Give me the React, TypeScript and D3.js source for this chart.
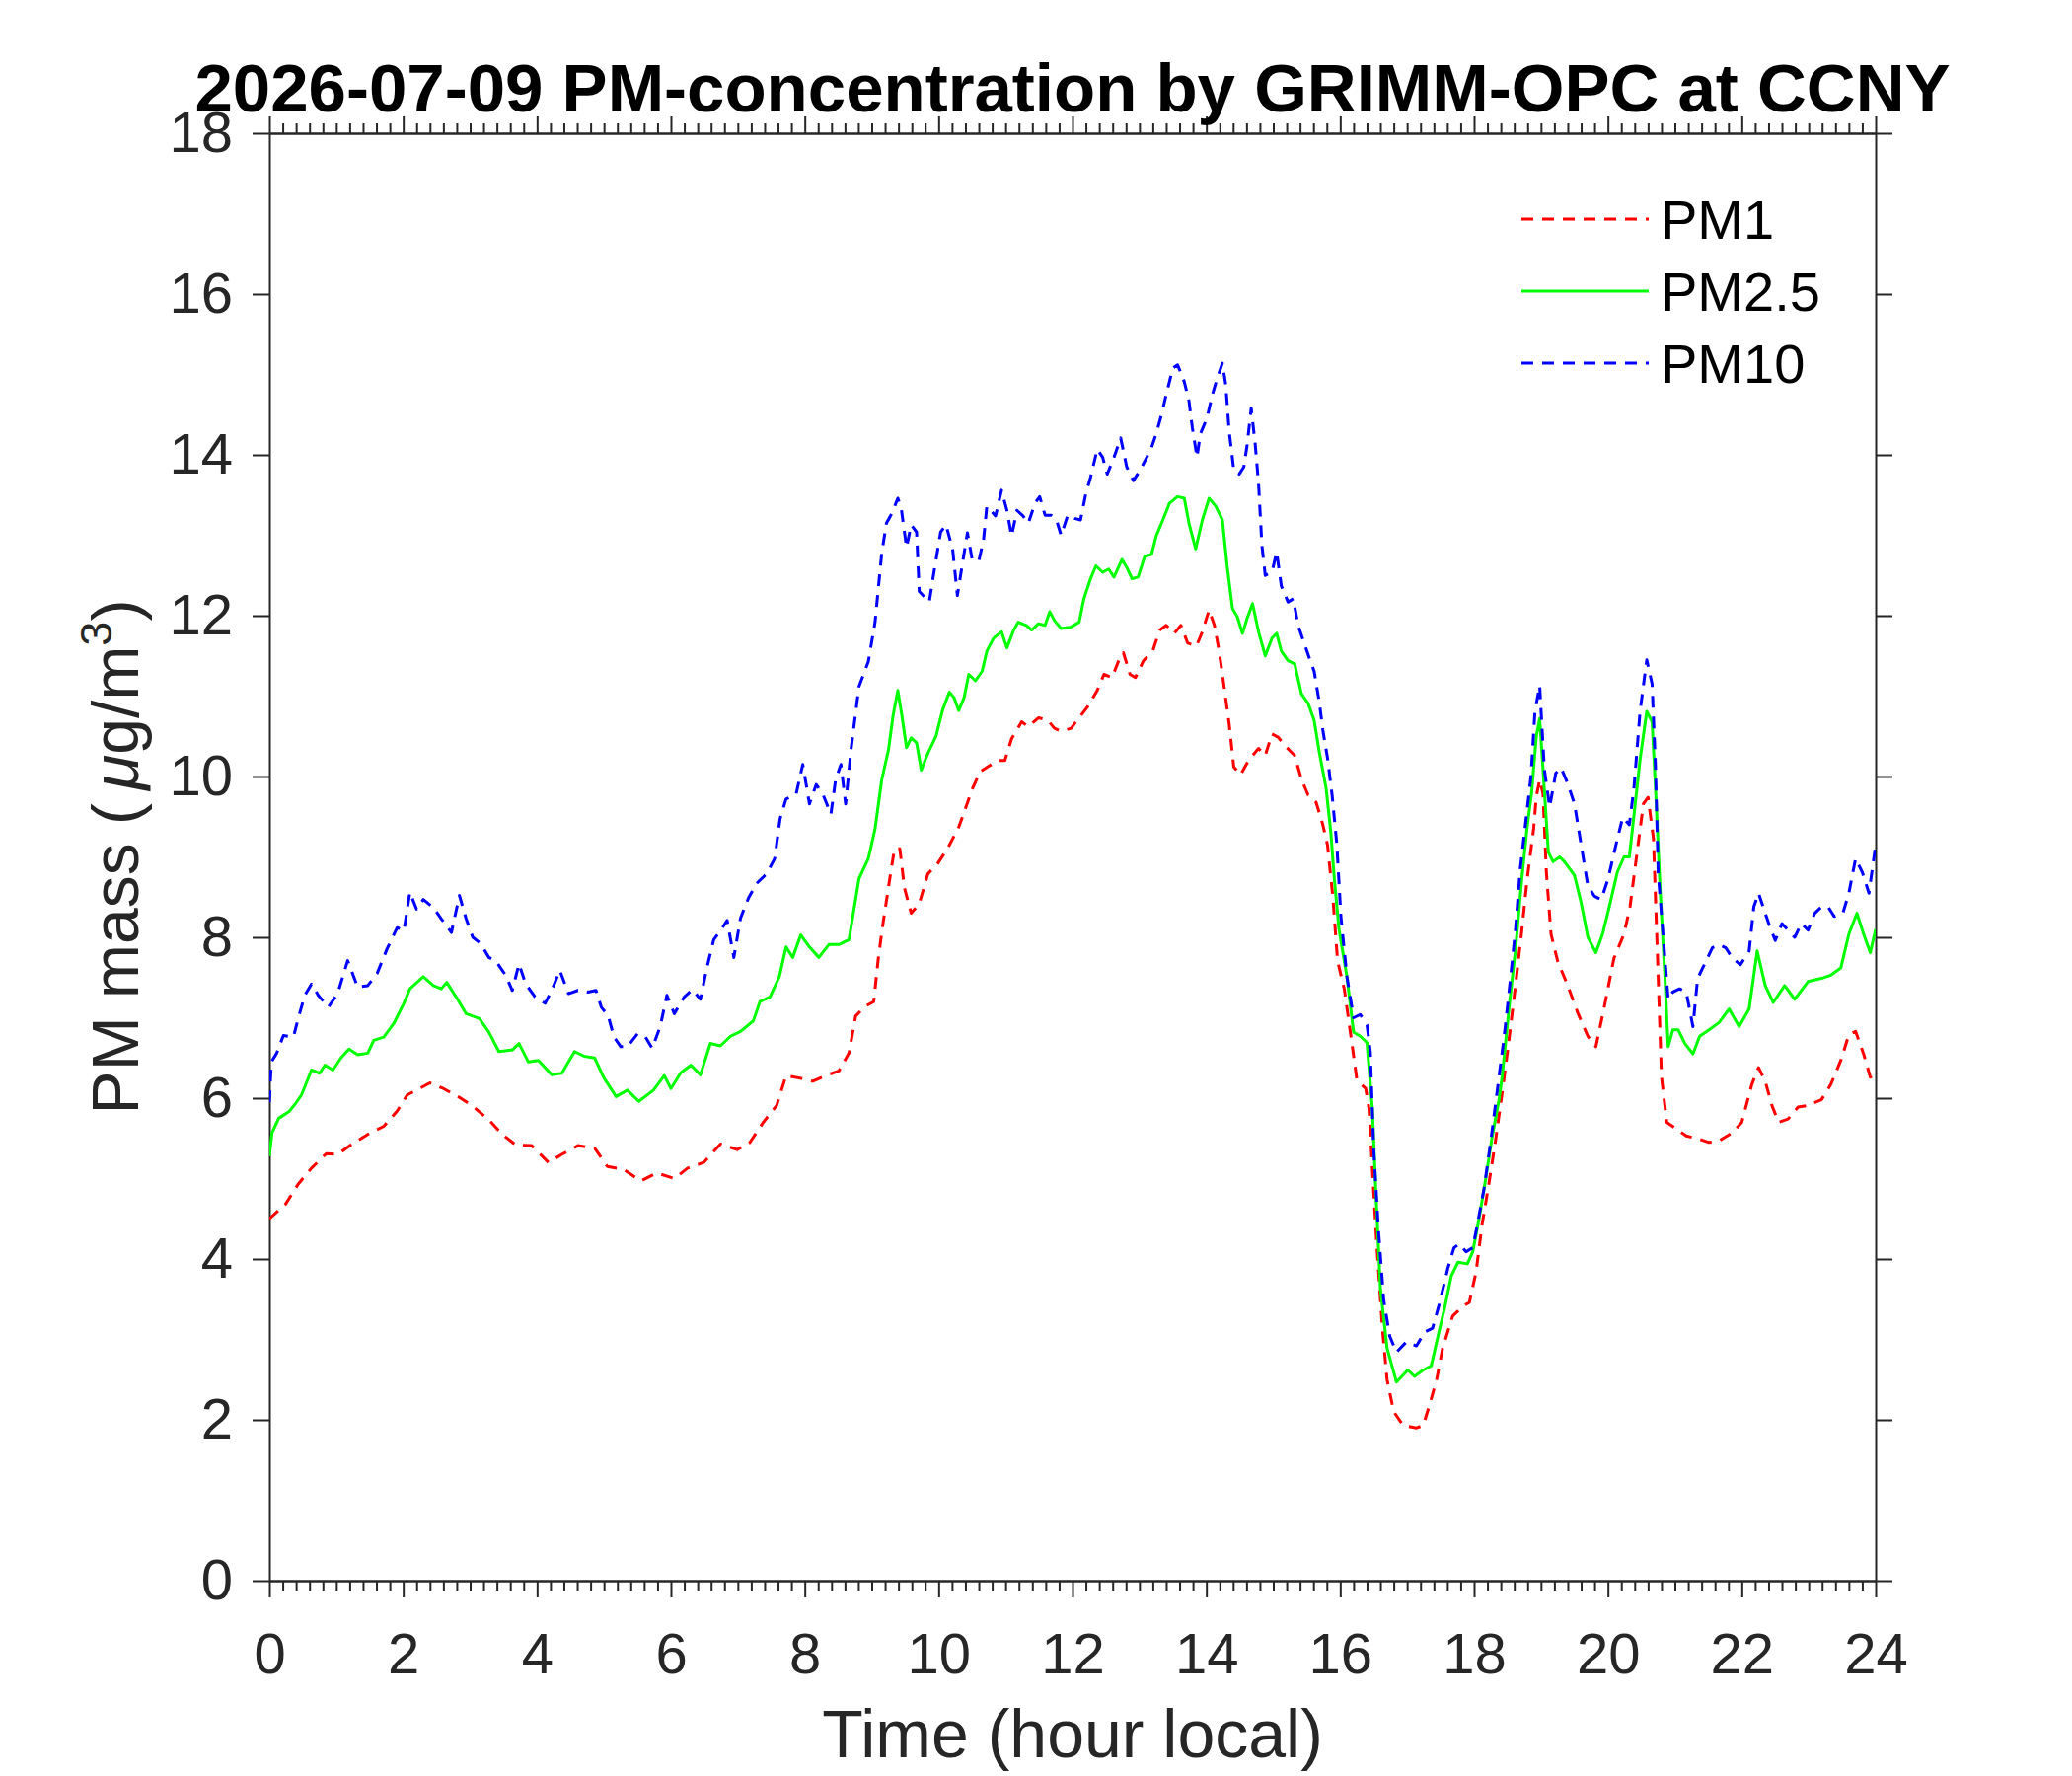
import React, { useEffect, useRef } from "react";
import * as d3 from "d3";

const W = 2100;
const H = 1800;

const titleText = "2026-07-09 PM-concentration by GRIMM-OPC at CCNY";
const xLabelText = "Time (hour local)";

const xTicks = [0, 2, 4, 6, 8, 10, 12, 14, 16, 18, 20, 22, 24];
const yTicks = [0, 2, 4, 6, 8, 10, 12, 14, 16, 18];

// PM1 (red dashed)
const pm1Time = [
  0, 0.24, 0.43, 0.63, 0.85, 1.02, 1.22, 1.47, 1.71, 1.91, 2.06, 2.2, 2.4, 2.6, 2.84, 3.04, 3.28, 3.48,
  3.68, 3.92, 4.17, 4.37, 4.61, 4.86, 5.05, 5.3, 5.55, 5.79, 6.05, 6.25, 6.49, 6.74, 6.99, 7.18, 7.38,
  7.58, 7.72, 7.92, 8.12, 8.31, 8.51, 8.66, 8.76, 8.9, 9.03, 9.1, 9.17, 9.27, 9.34, 9.42, 9.49, 9.59,
  9.71, 9.84, 9.98, 10.13, 10.3, 10.4, 10.5, 10.62, 10.77, 10.89, 10.99, 11.09, 11.24, 11.34, 11.49,
  11.63, 11.73, 11.83, 11.98, 12.07, 12.22, 12.37, 12.47, 12.59, 12.69, 12.76, 12.86, 12.94, 13.06,
  13.2, 13.3, 13.4, 13.52, 13.62, 13.72, 13.85, 13.94, 14.04, 14.12, 14.19, 14.26, 14.34, 14.41, 14.51,
  14.63, 14.78, 14.88, 14.98, 15.07, 15.2, 15.32, 15.42, 15.52, 15.64, 15.74, 15.81, 15.89, 15.96,
  16.06, 16.16, 16.25, 16.38, 16.43, 16.48, 16.55, 16.63, 16.7, 16.8, 16.94, 17.14, 17.24, 17.34,
  17.44, 17.53, 17.68, 17.83, 17.93, 18.03, 18.12, 18.22, 18.32, 18.42, 18.52, 18.62, 18.71, 18.79,
  18.89, 18.93, 18.98, 19.03, 19.08, 19.15, 19.25, 19.4, 19.55, 19.7, 19.82, 19.94, 20.09, 20.24,
  20.33, 20.43, 20.53, 20.6, 20.68, 20.75, 20.8, 20.88, 21.02, 21.17, 21.37, 21.51, 21.66, 21.86, 22,
  22.15, 22.25, 22.35, 22.45, 22.55, 22.69, 22.84, 22.99, 23.19, 23.33, 23.48, 23.6, 23.7, 23.82,
  23.92, 24,
];
const pm1 = [
  4.5, 4.68, 4.93, 5.13, 5.31, 5.3, 5.42, 5.55, 5.65, 5.84, 6.04, 6.1, 6.19, 6.12, 6.01, 5.9, 5.73, 5.55,
  5.42, 5.41, 5.2, 5.3, 5.41, 5.38, 5.15, 5.11, 4.97, 5.07, 5.0, 5.13, 5.2, 5.43, 5.36, 5.45, 5.7,
  5.91, 6.28, 6.25, 6.21, 6.28, 6.34, 6.56, 7.02, 7.14, 7.2, 7.75, 8.18, 8.73, 9.1, 9.1, 8.61, 8.3,
  8.42, 8.79, 8.91, 9.1, 9.37, 9.6, 9.84, 10.06, 10.14, 10.2, 10.2, 10.47, 10.68, 10.62, 10.73,
  10.7, 10.6, 10.56, 10.6, 10.7, 10.86, 11.07, 11.27, 11.23, 11.44, 11.54, 11.27, 11.23, 11.44,
  11.56, 11.82, 11.88, 11.78, 11.88, 11.66, 11.62, 11.8, 12.07, 11.88, 11.56, 11.15, 10.66, 10.12, 10.02,
  10.2, 10.35, 10.26, 10.53, 10.49, 10.36, 10.26, 9.97, 9.77, 9.68, 9.4, 9.15, 8.5, 7.71,
  7.36, 6.77, 6.22, 6.12, 5.87, 5.13, 4.13, 3.14, 2.5, 2.1, 1.93, 1.9, 1.93, 2.2,
  2.5, 2.89, 3.29, 3.41, 3.46, 3.84, 4.43, 4.93, 5.47, 6.07, 6.72, 7.41, 8.06, 8.7,
  9.35, 9.75, 9.96, 9.79, 8.81, 8.04, 7.7, 7.4, 7.06, 6.77, 6.64, 7.11, 7.74, 8.04,
  8.38, 9.02, 9.66, 9.74, 9.23, 7.53, 6.26, 5.7, 5.62, 5.53, 5.49, 5.45, 5.47, 5.57, 5.7,
  6.17, 6.38, 6.21, 5.91, 5.7, 5.74, 5.89, 5.91, 5.98, 6.17, 6.47, 6.79, 6.83, 6.55,
  6.26, 6.3,
];

// PM2.5 (green solid)
const pm25Time = [
  0, 0.04, 0.14, 0.29, 0.38, 0.48, 0.63, 0.75, 0.83, 0.95, 1.07, 1.19, 1.32, 1.47, 1.56, 1.71, 1.86,
  2.01, 2.1, 2.3, 2.45, 2.57, 2.65, 2.79, 2.94, 3.14, 3.28, 3.43, 3.63, 3.73, 3.87, 4.02, 4.22, 4.37,
  4.56, 4.71, 4.86, 5.0, 5.18, 5.35, 5.52, 5.74, 5.9, 6.0, 6.15, 6.3, 6.44, 6.59, 6.74, 6.89, 7.04,
  7.23, 7.33, 7.48, 7.62, 7.72, 7.82, 7.94, 8.07, 8.21, 8.36, 8.51, 8.66, 8.81, 8.95, 9.05, 9.15, 9.25,
  9.32, 9.39, 9.45, 9.52, 9.59, 9.67, 9.74, 9.84, 9.96, 10.06, 10.16, 10.23, 10.3, 10.38, 10.45, 10.55,
  10.65, 10.72, 10.82, 10.94, 11.02, 11.12, 11.19, 11.31, 11.39, 11.49, 11.59, 11.66, 11.73, 11.83,
  11.98, 12.1, 12.17, 12.27, 12.35, 12.45, 12.54, 12.62, 12.74, 12.81, 12.89, 12.98, 13.08, 13.18,
  13.25, 13.35, 13.45, 13.57, 13.67, 13.74, 13.84, 13.94, 14.04, 14.14, 14.24, 14.31, 14.39, 14.46,
  14.54, 14.61, 14.69, 14.78, 14.88, 14.98, 15.05, 15.12, 15.22, 15.32, 15.42, 15.52, 15.61, 15.69,
  15.79, 15.86, 15.91, 15.98, 16.1, 16.2, 16.3, 16.4, 16.48, 16.53, 16.6, 16.7, 16.84, 17.01, 17.11,
  17.24, 17.36, 17.46, 17.56, 17.66, 17.76, 17.9, 17.98, 18.07, 18.17, 18.27, 18.37, 18.42, 18.52,
  18.62, 18.71, 18.79, 18.86, 18.93, 18.98, 19.03, 19.11, 19.18, 19.28, 19.35, 19.43, 19.5, 19.6,
  19.7, 19.82, 19.92, 20.02, 20.14, 20.24, 20.32, 20.38, 20.48, 20.58, 20.66, 20.71, 20.78, 20.85,
  20.9, 20.97, 21.05, 21.15, 21.27, 21.37, 21.51, 21.66, 21.81, 21.96, 22.11, 22.23, 22.35, 22.47,
  22.64, 22.79, 22.99, 23.19, 23.33, 23.48, 23.6, 23.72, 23.82, 23.92, 24,
];
const pm25 = [
  5.28, 5.57, 5.75, 5.83, 5.92, 6.04, 6.35, 6.31, 6.41, 6.35, 6.5, 6.61, 6.54, 6.56, 6.72, 6.76, 6.93,
  7.18, 7.36, 7.51, 7.4, 7.36, 7.44, 7.26, 7.05, 6.99, 6.82, 6.58, 6.6, 6.68, 6.45, 6.47, 6.29, 6.31,
  6.58, 6.52, 6.5, 6.25, 6.02, 6.1, 5.96, 6.1, 6.28, 6.12, 6.32, 6.41, 6.29, 6.68, 6.65, 6.77, 6.83,
  6.96, 7.2, 7.26, 7.51, 7.88, 7.75, 8.03, 7.88, 7.75, 7.91, 7.91, 7.97, 8.73, 8.98, 9.35, 9.96, 10.33,
  10.76, 11.07, 10.76, 10.36, 10.48, 10.42, 10.08, 10.29, 10.5, 10.83, 11.05, 10.98, 10.82, 10.98, 11.27, 11.19,
  11.31, 11.56, 11.72, 11.8, 11.6, 11.82, 11.92, 11.88, 11.82, 11.9, 11.88, 12.05, 11.94, 11.84,
  11.86, 11.92, 12.21, 12.46, 12.62, 12.54, 12.58, 12.48, 12.7, 12.6, 12.46, 12.48, 12.74, 12.76,
  12.99, 13.19, 13.4, 13.48, 13.46, 13.15, 12.83, 13.19, 13.46, 13.36, 13.19, 12.62, 12.09, 11.99,
  11.78, 11.97, 12.15, 11.8, 11.5, 11.72, 11.78, 11.56, 11.44, 11.4, 11.03, 10.91, 10.7, 10.29,
  9.85, 9.3, 8.75, 8.11, 7.51, 6.82, 6.77, 6.69, 5.87, 4.88, 3.64, 2.89, 2.47, 2.62, 2.54,
  2.62, 2.67, 3.04, 3.39, 3.79, 3.96, 3.94, 4.09, 4.48, 4.98, 5.52, 5.97, 6.27, 7.11,
  7.86, 8.7, 9.35, 9.8, 10.5, 10.72, 10.09, 9.06, 8.94, 9.0, 8.94, 8.85, 8.77, 8.43,
  8.0, 7.81, 8.04, 8.38, 8.81, 9.0, 9.0, 9.45, 10.21, 10.81, 10.68, 9.87, 8.6, 7.53,
  6.64, 6.85, 6.85, 6.68, 6.55, 6.77, 6.85, 6.94, 7.11, 6.89, 7.11, 7.83, 7.4, 7.19,
  7.4, 7.23, 7.45, 7.49, 7.53, 7.62, 8.04, 8.3, 8.04, 7.81, 8.1,
];

// PM10 (blue dashed)
const pm10Time = [
  0, 0.03, 0.11, 0.21, 0.36, 0.43, 0.53, 0.63, 0.73, 0.88, 1.02, 1.17, 1.32, 1.47, 1.61, 1.76, 1.91,
  2.01, 2.1, 2.2, 2.3, 2.45, 2.57, 2.72, 2.84, 2.94, 3.04, 3.16, 3.28, 3.38, 3.53, 3.63, 3.73, 3.83,
  3.97, 4.12, 4.22, 4.34, 4.47, 4.61, 4.76, 4.88, 4.96, 5.06, 5.15, 5.25, 5.35, 5.5, 5.62, 5.72, 5.84,
  5.94, 6.05, 6.2, 6.32, 6.44, 6.54, 6.64, 6.77, 6.84, 6.94, 7.04, 7.16, 7.28, 7.43, 7.55, 7.63, 7.72,
  7.87, 7.97, 8.07, 8.17, 8.27, 8.39, 8.46, 8.54, 8.61, 8.69, 8.81, 8.95, 9.05, 9.15, 9.22, 9.3, 9.39,
  9.44, 9.52, 9.59, 9.67, 9.71, 9.79, 9.86, 9.93, 10.03, 10.11, 10.21, 10.28, 10.35, 10.43, 10.5,
  10.6, 10.67, 10.72, 10.85, 10.94, 11.02, 11.09, 11.17, 11.26, 11.34, 11.44, 11.51, 11.59, 11.68,
  11.76, 11.83, 11.93, 12.03, 12.12, 12.2, 12.27, 12.37, 12.45, 12.52, 12.62, 12.72, 12.81, 12.91,
  13.01, 13.11, 13.18, 13.25, 13.33, 13.4, 13.5, 13.57, 13.67, 13.74, 13.79, 13.86, 13.91, 14.01,
  14.09, 14.16, 14.24, 14.29, 14.34, 14.41, 14.49, 14.56, 14.61, 14.67, 14.73, 14.78, 14.83, 14.88,
  14.98, 15.05, 15.12, 15.22, 15.3, 15.37, 15.47, 15.54, 15.61, 15.69, 15.74, 15.81, 15.88, 15.95,
  16.01, 16.1, 16.2, 16.3, 16.4, 16.45, 16.5, 16.57, 16.65, 16.74, 16.84, 16.99, 17.14, 17.26, 17.38,
  17.48, 17.61, 17.7, 17.78, 17.88, 17.98, 18.05, 18.15, 18.25, 18.35, 18.45, 18.54, 18.62, 18.69,
  18.76, 18.85, 18.91, 18.98, 19.05, 19.13, 19.22, 19.3, 19.4, 19.5, 19.6, 19.7, 19.8, 19.9, 20,
  20.12, 20.22, 20.32, 20.39, 20.48, 20.58, 20.66, 20.71, 20.75, 20.83, 20.9, 20.97, 21.07, 21.17,
  21.27, 21.34, 21.44, 21.56, 21.66, 21.76, 21.86, 21.98, 22.11, 22.18, 22.25, 22.35, 22.42, 22.5,
  22.6, 22.69, 22.79, 22.89, 22.99, 23.09, 23.19, 23.29, 23.38, 23.51, 23.6, 23.7, 23.8, 23.9, 24,
];
const pm10 = [
  5.95, 6.45, 6.56, 6.78, 6.76, 6.99, 7.28, 7.42, 7.28, 7.13, 7.3, 7.71, 7.38, 7.4, 7.55, 7.86, 8.12,
  8.08, 8.56, 8.35, 8.47, 8.37, 8.23, 8.06, 8.52, 8.23, 8.0, 7.92, 7.75, 7.71, 7.53, 7.34, 7.67, 7.42,
  7.26, 7.18, 7.34, 7.59, 7.3, 7.34, 7.32, 7.34, 7.13, 7.03, 6.76, 6.64, 6.64, 6.8, 6.76, 6.62, 6.89,
  7.28, 7.05, 7.26, 7.35, 7.23, 7.63, 7.97, 8.12, 8.21, 7.75, 8.24, 8.49, 8.67, 8.79, 8.98, 9.47, 9.72,
  9.78, 10.15, 9.66, 9.9, 9.78, 9.53, 9.96, 10.15, 9.66, 10.33, 11.12, 11.43, 11.92, 12.78, 13.15, 13.27, 13.46,
  13.34, 12.85, 13.13, 13.04, 12.3, 12.23, 12.17, 12.54, 13.04, 13.13, 12.82, 12.25, 12.62, 13.03, 12.7,
  12.68, 12.94, 13.36, 13.24, 13.56, 13.31, 12.99, 13.31, 13.24, 13.15, 13.4, 13.48, 13.25, 13.25,
  13.19, 13.0, 13.25, 13.21, 13.19, 13.52, 13.72, 14.07, 13.97, 13.76, 13.97, 14.21, 13.85, 13.68,
  13.81, 13.97, 14.09, 14.26, 14.5, 14.75, 15.08, 15.12, 14.91, 14.67, 14.34, 13.97, 14.26, 14.46,
  14.75, 14.95, 15.14, 14.87, 14.3, 13.81, 13.76, 13.85, 14.13, 14.58, 14.13, 13.64, 12.87, 12.5,
  12.54, 12.79, 12.37, 12.17, 12.21, 11.88, 11.64, 11.47, 11.31, 10.91, 10.58, 10.23, 9.76, 9.15,
  8.26, 7.51, 7.0, 7.04, 6.91, 6.57, 5.38, 4.38, 3.49, 3.04, 2.84, 2.97, 2.92, 3.09, 3.14,
  3.44, 3.89, 4.14, 4.19, 4.09, 4.14, 4.43, 4.88, 5.47, 6.12, 6.77, 7.46, 8.11, 8.85,
  9.35, 10.0, 10.81, 11.13, 10.09, 9.62, 10.04, 10.11, 9.91, 9.66, 9.15, 8.64, 8.51, 8.47, 8.72,
  9.15, 9.49, 9.4, 9.87, 10.81, 11.45, 11.15, 10.13, 8.81, 7.96, 7.23, 7.32, 7.36, 7.32,
  6.89, 7.49, 7.66, 7.87, 7.91, 7.87, 7.74, 7.66, 7.83, 8.38, 8.55, 8.3, 8.13, 7.96,
  8.17, 8.09, 8.0, 8.17, 8.09, 8.3, 8.38, 8.38, 8.26, 8.3, 8.55, 8.98, 8.81, 8.55, 9.15,
];

const series = [
  { name: "PM1", time: pm1Time, values: pm1, color: "#ff0000", dash: "12 9" },
  { name: "PM2.5", time: pm25Time, values: pm25, color: "#00ff00", dash: null },
  { name: "PM10", time: pm10Time, values: pm10, color: "#0000ff", dash: "12 9" },
];

const FONT = "'Liberation Sans', Arial, Helvetica, sans-serif";
const AXIS_COLOR = "#262626";

const App: React.FC = () => {
  const svgRef = useRef<SVGSVGElement | null>(null);

  useEffect(() => {
    document.body.style.margin = "0";

    const margin = { top: 135, right: 199, bottom: 198, left: 273 };
    const svg = d3.select(svgRef.current).attr("width", W).attr("height", H);
    svg.selectAll("*").remove();

    const x = d3
      .scaleLinear()
      .domain([0, 24])
      .range([margin.left, W - margin.right]);
    const y = d3
      .scaleLinear()
      .domain([0, 18])
      .range([H - margin.bottom, margin.top]);

    svg.append("rect").attr("width", W).attr("height", H).attr("fill", "#fff");

    // minor tick positions (every 0.2 h, majors excluded)
    const minor = d3.range(1, 120).map((i) => i / 5).filter((_, i) => (i + 1) % 10 !== 0);

    const styleAxis = (g: d3.Selection<SVGGElement, unknown, null, undefined>) => {
      g.attr("color", AXIS_COLOR).attr("font-family", FONT).attr("font-size", 58);
      g.selectAll("path.domain").attr("stroke-width", 2);
      g.selectAll(".tick line").attr("stroke-width", 2);
    };

    // bottom
    svg
      .append("g")
      .attr("transform", `translate(0,${y(0)})`)
      .call(d3.axisBottom(x).tickValues(minor).tickSize(10).tickSizeOuter(0).tickFormat(() => ""))
      .call(styleAxis);
    svg
      .append("g")
      .attr("transform", `translate(0,${y(0)})`)
      .call(d3.axisBottom(x).tickValues(xTicks).tickSize(17).tickSizeOuter(0).tickPadding(36).tickFormat(d3.format("d")))
      .call(styleAxis);

    // top
    svg
      .append("g")
      .attr("transform", `translate(0,${y(18)})`)
      .call(d3.axisTop(x).tickValues(minor).tickSize(10).tickSizeOuter(0).tickFormat(() => ""))
      .call(styleAxis);
    svg
      .append("g")
      .attr("transform", `translate(0,${y(18)})`)
      .call(d3.axisTop(x).tickValues(xTicks).tickSize(17).tickSizeOuter(0).tickFormat(() => ""))
      .call(styleAxis);

    // left
    svg
      .append("g")
      .attr("transform", `translate(${x(0)},0)`)
      .call(d3.axisLeft(y).tickValues(yTicks).tickSize(17).tickSizeOuter(0).tickPadding(20).tickFormat(d3.format("d")))
      .call(styleAxis);

    // right
    svg
      .append("g")
      .attr("transform", `translate(${x(24)},0)`)
      .call(d3.axisRight(y).tickValues(yTicks).tickSize(17).tickSizeOuter(0).tickFormat(() => ""))
      .call(styleAxis);

    // lines
    svg
      .append("clipPath")
      .attr("id", "plot-clip")
      .append("rect")
      .attr("x", x(0))
      .attr("y", y(18))
      .attr("width", x(24) - x(0))
      .attr("height", y(0) - y(18));

    const plot = svg.append("g").attr("clip-path", "url(#plot-clip)");
    series.forEach((s) => {
      const pts = s.time.map((t, i) => [t, s.values[i]] as [number, number]);
      const line = d3
        .line<[number, number]>()
        .x((d) => x(d[0]))
        .y((d) => y(d[1]));
      plot
        .append("path")
        .datum(pts)
        .attr("d", line)
        .attr("fill", "none")
        .attr("stroke", s.color)
        .attr("stroke-width", 3)
        .attr("stroke-linejoin", "round")
        .attr("stroke-dasharray", s.dash);
    });

    // legend
    const legend = svg.append("g");
    series.forEach((s, i) => {
      const ly = 222 + i * 73;
      legend
        .append("line")
        .attr("x1", 1542)
        .attr("x2", 1671)
        .attr("y1", ly)
        .attr("y2", ly)
        .attr("stroke", s.color)
        .attr("stroke-width", 3)
        .attr("stroke-dasharray", s.dash);
      legend
        .append("text")
        .attr("x", 1683)
        .attr("y", ly + 20)
        .attr("font-family", FONT)
        .attr("font-size", 56)
        .attr("fill", "#000")
        .text(s.name);
    });

    // title
    svg
      .append("text")
      .attr("x", (x(0) + x(24)) / 2)
      .attr("y", 113)
      .attr("text-anchor", "middle")
      .attr("font-family", FONT)
      .attr("font-weight", "bold")
      .attr("font-size", 69)
      .attr("fill", "#000")
      .text(titleText);

    // x label
    svg
      .append("text")
      .attr("x", (x(0) + x(24)) / 2)
      .attr("y", 1781)
      .attr("text-anchor", "middle")
      .attr("font-family", FONT)
      .attr("font-size", 68)
      .attr("fill", AXIS_COLOR)
      .text(xLabelText);

    // y label
    const yl = svg
      .append("text")
      .attr("transform", `translate(140,${(y(0) + y(18)) / 2}) rotate(-90)`)
      .attr("text-anchor", "middle")
      .attr("font-family", FONT)
      .attr("font-size", 66)
      .attr("fill", AXIS_COLOR);
    yl.append("tspan").text("PM mass (\u2009");
    yl.append("tspan").attr("font-style", "italic").text("\u03bc");
    yl.append("tspan").text("g/m");
    yl.append("tspan").attr("font-size", 45).attr("dy", -27).text("3");
    yl.append("tspan").attr("dy", 27).text(")");
  }, []);

  return <svg ref={svgRef} style={{ display: "block" }}></svg>;
};

export default App;
